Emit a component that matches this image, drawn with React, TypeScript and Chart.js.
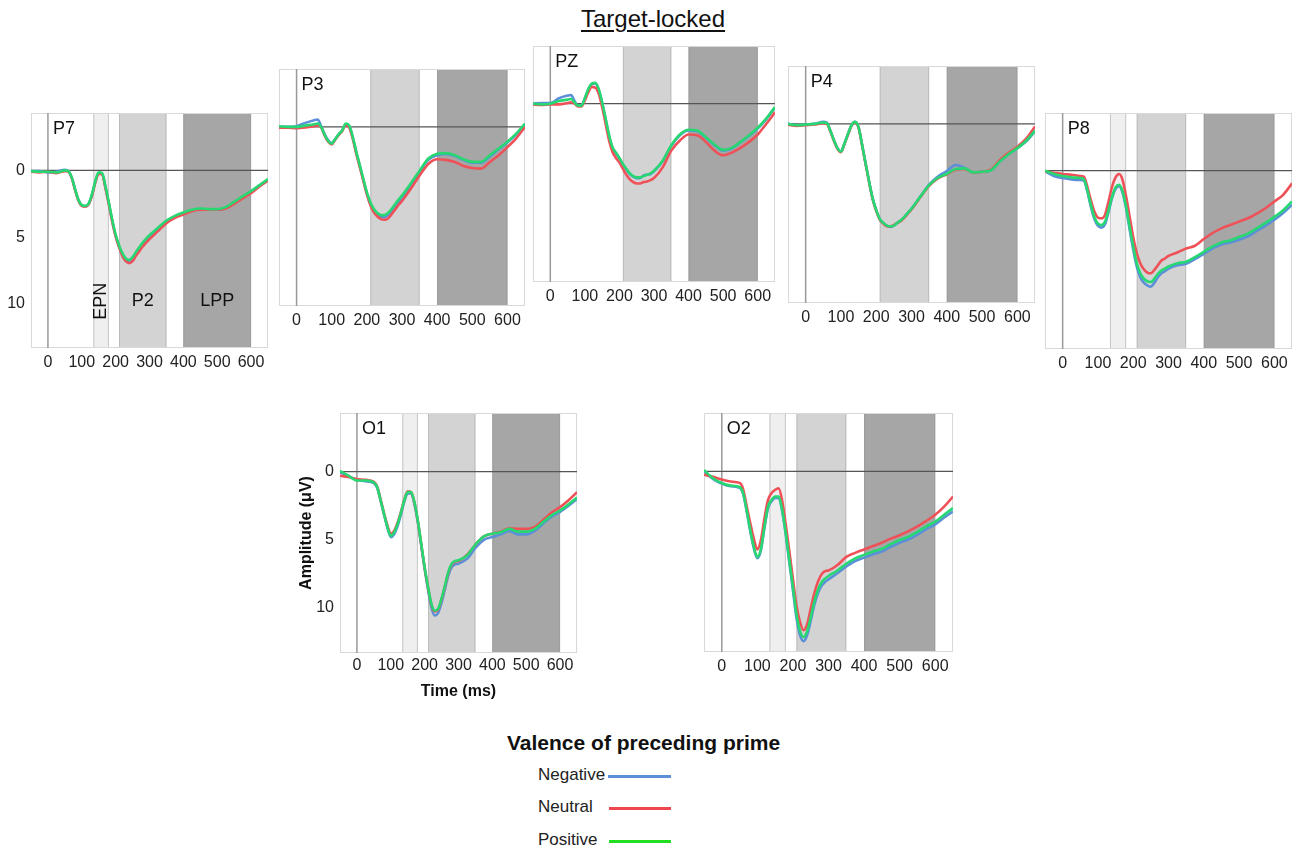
import React, { useEffect, useRef } from "react";
import { Chart, registerables } from "chart.js";

Chart.register(...registerables);

const FONT = "'Liberation Sans', Arial, Helvetica, sans-serif";
Chart.defaults.font.family = FONT;

// ---------- DATA ----------
const times = [-50, -25, 0, 25, 50, 60, 70, 80, 90, 100, 110, 120, 130, 140, 150, 160, 170, 180, 190, 200, 210, 220, 230, 240, 250, 260, 270, 280, 290, 300, 325, 350, 375, 400, 425, 450, 475, 500, 525, 550, 575, 600, 625, 650];
const xTickValues = [0, 100, 200, 300, 400, 500, 600];
const yTickValues = [0, 5, 10];
const xRange = [-50, 650];
const yRange = [-4.3, 13.3];

const bandEPN = [134, 180];
const bandP2 = [210, 350];
const bandLPP = [400, 600];
const bandNames = ["EPN", "P2", "LPP"];
const bandLabelAmplitude = 9.8;

const seriesNames = ["Negative", "Neutral", "Positive"];
const chartTitle = "Target-locked";
const legendTitle = "Valence of preceding prime";
const xAxisTitle = "Time (ms)";
const yAxisTitle = "Amplitude (μV)";

const p7Negative = [0.05, 0.05, 0.15, 0.1, -0.05, 0.05, 0.5, 1.4, 2.2, 2.6, 2.7, 2.5, 1.85, 0.85, 0.2, 0.25, 1.25, 2.5, 3.8, 4.9, 5.7, 6.35, 6.75, 6.85, 6.65, 6.25, 5.9, 5.55, 5.25, 4.95, 4.4, 3.8, 3.45, 3.2, 3.0, 2.9, 2.95, 2.95, 2.8, 2.4, 2.0, 1.6, 1.15, 0.75];
const p7Neutral = [0.1, 0.15, 0.1, 0.2, 0.05, 0.1, 0.55, 1.45, 2.25, 2.65, 2.7, 2.55, 1.9, 0.9, 0.25, 0.3, 1.35, 2.55, 3.85, 4.95, 5.75, 6.4, 6.8, 6.95, 6.8, 6.4, 6.05, 5.7, 5.4, 5.15, 4.55, 3.95, 3.55, 3.3, 3.05, 2.95, 2.95, 2.95, 2.85, 2.5, 2.1, 1.7, 1.2, 0.75];
const p7Positive = [0.05, 0.1, 0.1, 0.15, 0.0, 0.05, 0.5, 1.4, 2.2, 2.6, 2.65, 2.5, 1.8, 0.8, 0.15, 0.2, 1.2, 2.4, 3.7, 4.8, 5.6, 6.2, 6.6, 6.7, 6.5, 6.1, 5.75, 5.4, 5.1, 4.85, 4.3, 3.75, 3.4, 3.15, 2.95, 2.85, 2.9, 2.9, 2.75, 2.35, 1.95, 1.55, 1.1, 0.65];

const p3Negative = [0.0, 0.0, -0.05, -0.3, -0.5, -0.55, -0.05, 0.55, 1.0, 1.2, 0.9, 0.55, 0.25, -0.2, -0.05, 0.8, 1.9, 2.9, 3.95, 4.95, 5.75, 6.25, 6.55, 6.7, 6.7, 6.55, 6.25, 5.95, 5.6, 5.3, 4.35, 3.35, 2.45, 2.1, 2.0, 2.15, 2.45, 2.65, 2.65, 2.2, 1.65, 1.15, 0.55, -0.2];
const p3Neutral = [0.05, 0.05, 0.1, 0.05, -0.05, -0.1, 0.05, 0.65, 1.1, 1.3, 0.95, 0.6, 0.3, -0.15, 0.05, 0.9, 2.0, 3.0, 4.0, 5.0, 5.8, 6.35, 6.65, 6.85, 6.9, 6.8, 6.5, 6.15, 5.8, 5.5, 4.6, 3.6, 2.75, 2.4, 2.45, 2.6, 2.9, 3.05, 3.1, 2.6, 2.1, 1.5, 0.85, 0.0];
const p3Positive = [-0.05, 0.0, 0.0, -0.1, -0.2, -0.25, 0.0, 0.6, 1.05, 1.25, 0.9, 0.55, 0.25, -0.25, -0.1, 0.75, 1.85, 2.85, 3.85, 4.85, 5.6, 6.1, 6.4, 6.55, 6.55, 6.4, 6.1, 5.75, 5.4, 5.1, 4.2, 3.25, 2.35, 2.0, 1.95, 2.1, 2.4, 2.6, 2.6, 2.1, 1.6, 1.1, 0.5, -0.25];

const pzNegative = [0.0, -0.05, -0.05, -0.4, -0.6, -0.65, -0.2, 0.15, 0.15, -0.4, -1.05, -1.45, -1.5, -1.05, -0.05, 1.15, 2.4, 3.3, 3.7, 4.1, 4.55, 4.9, 5.25, 5.45, 5.55, 5.55, 5.35, 5.3, 5.25, 5.05, 4.3, 3.15, 2.35, 2.0, 2.05, 2.55, 3.1, 3.5, 3.35, 2.9, 2.4, 1.85, 1.15, 0.3];
const pzNeutral = [0.05, 0.1, 0.05, 0.05, -0.05, -0.1, 0.0, 0.2, 0.2, -0.25, -0.85, -1.25, -1.2, -0.75, 0.25, 1.5, 2.75, 3.6, 4.05, 4.4, 4.85, 5.3, 5.65, 5.85, 5.95, 5.95, 5.85, 5.8, 5.7, 5.55, 4.75, 3.5, 2.75, 2.3, 2.35, 2.85, 3.5, 3.85, 3.65, 3.3, 2.85, 2.3, 1.5, 0.65];
const pzPositive = [0.0, 0.05, 0.0, -0.2, -0.3, -0.35, -0.1, 0.15, 0.15, -0.4, -1.1, -1.5, -1.55, -1.1, -0.1, 1.1, 2.35, 3.25, 3.65, 4.05, 4.5, 4.85, 5.2, 5.4, 5.5, 5.5, 5.4, 5.3, 5.2, 5.0, 4.25, 3.1, 2.3, 1.95, 2.0, 2.5, 3.05, 3.45, 3.3, 2.85, 2.35, 1.8, 1.1, 0.25];

const p4Negative = [0.0, 0.1, 0.05, 0.0, -0.15, -0.1, 0.5, 1.2, 1.8, 2.05, 1.45, 0.75, 0.1, -0.15, 0.25, 1.55, 2.95, 4.3, 5.55, 6.4, 7.05, 7.35, 7.55, 7.65, 7.55, 7.35, 7.15, 6.9, 6.6, 6.3, 5.4, 4.5, 3.9, 3.5, 3.05, 3.25, 3.6, 3.55, 3.45, 2.8, 2.25, 1.8, 1.3, 0.55];
const p4Neutral = [0.05, 0.15, 0.1, 0.05, -0.05, 0.0, 0.55, 1.25, 1.85, 2.1, 1.5, 0.8, 0.15, -0.1, 0.3, 1.6, 3.0, 4.35, 5.6, 6.45, 7.1, 7.4, 7.6, 7.6, 7.5, 7.35, 7.2, 6.95, 6.65, 6.35, 5.45, 4.6, 4.05, 3.75, 3.4, 3.35, 3.6, 3.55, 3.4, 2.7, 2.15, 1.7, 1.1, 0.2];
const p4Positive = [0.0, 0.1, 0.05, 0.0, -0.1, -0.05, 0.5, 1.2, 1.8, 2.05, 1.45, 0.75, 0.1, -0.15, 0.25, 1.55, 2.95, 4.3, 5.55, 6.4, 7.05, 7.35, 7.55, 7.6, 7.55, 7.35, 7.15, 6.9, 6.6, 6.3, 5.4, 4.55, 4.0, 3.7, 3.35, 3.3, 3.6, 3.55, 3.45, 2.8, 2.25, 1.8, 1.25, 0.5];

const p8Negative = [0.05, 0.4, 0.55, 0.65, 0.7, 0.75, 1.55, 2.7, 3.6, 4.1, 4.25, 4.0, 3.1, 2.05, 1.35, 1.15, 1.65, 2.85, 4.4, 5.9, 7.15, 7.95, 8.35, 8.55, 8.65, 8.35, 7.95, 7.65, 7.5, 7.3, 7.05, 6.95, 6.6, 6.2, 5.8, 5.5, 5.35, 5.15, 4.9, 4.5, 4.1, 3.65, 3.15, 2.55];
const p8Neutral = [0.05, 0.15, 0.25, 0.3, 0.4, 0.45, 1.2, 2.2, 3.05, 3.5, 3.55, 3.3, 2.3, 1.2, 0.5, 0.25, 0.7, 1.95, 3.45, 4.95, 6.15, 6.9, 7.35, 7.6, 7.65, 7.4, 7.05, 6.7, 6.55, 6.35, 6.1, 5.8, 5.6, 5.1, 4.65, 4.3, 4.05, 3.8, 3.55, 3.2, 2.8, 2.3, 1.8, 0.95];
const p8Positive = [0.0, 0.25, 0.4, 0.5, 0.55, 0.65, 1.45, 2.55, 3.45, 3.95, 4.05, 3.8, 2.95, 1.95, 1.25, 1.05, 1.55, 2.7, 4.2, 5.65, 6.9, 7.65, 8.05, 8.25, 8.3, 8.05, 7.7, 7.45, 7.3, 7.15, 6.9, 6.8, 6.45, 6.05, 5.65, 5.35, 5.2, 4.95, 4.7, 4.3, 3.9, 3.45, 2.95, 2.3];

const o1Negative = [0.05, 0.35, 0.6, 0.7, 0.85, 1.2, 2.15, 3.15, 4.1, 4.8, 4.6, 4.0, 3.15, 2.2, 1.6, 1.6, 2.4, 3.75, 5.45, 7.15, 8.65, 9.95, 10.55, 10.35, 9.6, 8.6, 7.6, 7.0, 6.8, 6.75, 6.4, 5.6, 5.0, 4.8, 4.6, 4.35, 4.6, 4.6, 4.35, 3.8, 3.3, 2.95, 2.5, 2.0];
const o1Neutral = [0.3, 0.4, 0.55, 0.6, 0.75, 1.1, 2.05, 3.05, 3.95, 4.55, 4.35, 3.75, 2.95, 2.05, 1.45, 1.5, 2.3, 3.65, 5.35, 7.05, 8.5, 9.75, 10.25, 10.1, 9.35, 8.4, 7.4, 6.8, 6.6, 6.55, 6.1, 5.35, 4.75, 4.55, 4.4, 4.15, 4.2, 4.2, 4.05, 3.55, 3.0, 2.6, 2.1, 1.5];
const o1Positive = [-0.05, 0.3, 0.65, 0.65, 0.8, 1.15, 2.1, 3.1, 4.05, 4.7, 4.45, 3.85, 3.0, 2.1, 1.5, 1.5, 2.25, 3.6, 5.3, 7.0, 8.45, 9.7, 10.2, 10.05, 9.3, 8.35, 7.35, 6.75, 6.55, 6.5, 6.15, 5.35, 4.75, 4.55, 4.45, 4.2, 4.4, 4.4, 4.2, 3.7, 3.2, 2.85, 2.4, 1.9];

const o2Negative = [0.0, 0.55, 0.9, 1.1, 1.2, 1.65, 2.95, 4.4, 5.65, 6.4, 5.8, 4.15, 2.7, 2.2, 1.95, 1.95, 2.95, 4.7, 6.75, 8.75, 10.8, 12.05, 12.5, 12.05, 11.0, 9.85, 9.0, 8.45, 8.15, 7.95, 7.5, 7.0, 6.6, 6.35, 6.1, 5.9, 5.55, 5.25, 5.0, 4.65, 4.25, 3.9, 3.4, 2.95];
const o2Neutral = [0.25, 0.4, 0.6, 0.75, 0.85, 1.3, 2.55, 3.8, 4.95, 5.75, 5.05, 3.45, 2.1, 1.6, 1.35, 1.25, 2.2, 3.95, 5.9, 7.9, 9.9, 11.1, 11.7, 11.25, 10.1, 9.0, 8.15, 7.6, 7.35, 7.3, 6.9, 6.3, 6.0, 5.75, 5.5, 5.25, 4.95, 4.7, 4.4, 4.05, 3.65, 3.2, 2.6, 1.85];
const o2Positive = [-0.1, 0.5, 0.85, 1.05, 1.15, 1.6, 2.85, 4.3, 5.55, 6.3, 5.7, 4.05, 2.6, 2.1, 1.85, 1.85, 2.85, 4.55, 6.55, 8.5, 10.5, 11.75, 12.2, 11.75, 10.75, 9.6, 8.75, 8.2, 7.9, 7.7, 7.3, 6.8, 6.4, 6.15, 5.9, 5.7, 5.35, 5.05, 4.8, 4.45, 4.05, 3.7, 3.2, 2.7];

// ---------- STYLE / LAYOUT ----------
const seriesColors = ["#5b8fd8", "#ef5158", "#27d872"];
const legendColors = ["#5b8fd8", "#ef4650", "#22df22"];
const seriesOrder = [2, 1, 0];

type Panel = {
  name: string;
  series: number[][];
  epn: boolean;
  bandLabels: boolean;
  yTicks: boolean;
  axisTitles: boolean;
  plot: { l: number; t: number; r: number; b: number };
  m: { l: number; t: number; r: number; b: number };
  tickPad: number;
};

const panels: Panel[] = [
  { name: "P7", series: [p7Negative, p7Neutral, p7Positive], epn: true, bandLabels: true, yTicks: true, axisTitles: false, plot: { l: 31, t: 113, r: 268, b: 348 }, m: { l: 31, t: 20, r: 4, b: 32 }, tickPad: 5 },
  { name: "P3", series: [p3Negative, p3Neutral, p3Positive], epn: false, bandLabels: false, yTicks: false, axisTitles: false, plot: { l: 279, t: 69, r: 525, b: 306 }, m: { l: 4, t: 4, r: 4, b: 32 }, tickPad: 5 },
  { name: "PZ", series: [pzNegative, pzNeutral, pzPositive], epn: false, bandLabels: false, yTicks: false, axisTitles: false, plot: { l: 533, t: 46, r: 775, b: 282 }, m: { l: 4, t: 4, r: 4, b: 32 }, tickPad: 5 },
  { name: "P4", series: [p4Negative, p4Neutral, p4Positive], epn: false, bandLabels: false, yTicks: false, axisTitles: false, plot: { l: 788, t: 66, r: 1035, b: 303 }, m: { l: 4, t: 4, r: 4, b: 32 }, tickPad: 5 },
  { name: "P8", series: [p8Negative, p8Neutral, p8Positive], epn: true, bandLabels: false, yTicks: false, axisTitles: false, plot: { l: 1045, t: 113, r: 1292, b: 349 }, m: { l: 4, t: 4, r: 4, b: 32 }, tickPad: 5 },
  { name: "O1", series: [o1Negative, o1Neutral, o1Positive], epn: true, bandLabels: false, yTicks: true, axisTitles: true, plot: { l: 340, t: 413, r: 577, b: 653 }, m: { l: 43, t: 20, r: 4, b: 48 }, tickPad: 3 },
  { name: "O2", series: [o2Negative, o2Neutral, o2Positive], epn: true, bandLabels: false, yTicks: false, axisTitles: false, plot: { l: 704, t: 413, r: 953, b: 652 }, m: { l: 4, t: 4, r: 4, b: 32 }, tickPad: 5 },
];

const decorPlugin = {
  id: "erpDecor",
  beforeDatasetsDraw(chart: any, _args: any, opts: any) {
    const { ctx, chartArea: a, scales } = chart;
    const x = scales.x;
    const y = scales.y;
    ctx.save();
    const bands: [number[], string, string][] = [];
    if (opts.epn) bands.push([bandEPN, "#efefef", "#c6c6c6"]);
    bands.push([bandP2, "#d3d3d3", "#bcbcbc"]);
    bands.push([bandLPP, "#a6a6a6", "#9c9c9c"]);
    for (const [b, fill, stroke] of bands) {
      const x0 = x.getPixelForValue(b[0]);
      const x1 = x.getPixelForValue(b[1]);
      ctx.fillStyle = fill;
      ctx.fillRect(x0, a.top, x1 - x0, a.bottom - a.top);
      ctx.strokeStyle = stroke;
      ctx.lineWidth = 1;
      ctx.strokeRect(x0 + 0.5, a.top + 0.5, x1 - x0 - 1, a.bottom - a.top - 1);
    }
    ctx.strokeStyle = "#d9d9d9";
    ctx.lineWidth = 1;
    ctx.strokeRect(a.left + 0.5, a.top + 0.5, a.right - a.left - 1, a.bottom - a.top - 1);
    const xz = x.getPixelForValue(0);
    ctx.strokeStyle = "#9a9a9a";
    ctx.lineWidth = 1.5;
    ctx.beginPath();
    ctx.moveTo(xz, a.top);
    ctx.lineTo(xz, a.bottom);
    ctx.stroke();
    const yz = y.getPixelForValue(0);
    ctx.strokeStyle = "#555555";
    ctx.lineWidth = 1.2;
    ctx.beginPath();
    ctx.moveTo(a.left, yz);
    ctx.lineTo(a.right, yz);
    ctx.stroke();
    ctx.restore();
  },
  afterDatasetsDraw(chart: any, _args: any, opts: any) {
    const { ctx, chartArea: a, scales } = chart;
    const x = scales.x;
    const y = scales.y;
    ctx.save();
    ctx.fillStyle = "#111";
    ctx.font = `18px ${FONT}`;
    ctx.textBaseline = "middle";
    ctx.textAlign = "left";
    ctx.fillText(opts.name, x.getPixelForValue(0) + 5, a.top + 16);
    if (opts.bandLabels) {
      const ly = y.getPixelForValue(bandLabelAmplitude);
      const ranges = [bandEPN, bandP2, bandLPP];
      ranges.forEach((r, i) => {
        const cx = x.getPixelForValue((r[0] + r[1]) / 2);
        ctx.save();
        ctx.textAlign = "center";
        ctx.translate(cx, ly);
        if (i === 0) ctx.rotate(-Math.PI / 2);
        ctx.fillText(bandNames[i], 0, 0);
        ctx.restore();
      });
    }
    ctx.restore();
  },
};

function ErpPanel({ p }: { p: Panel }) {
  const ref = useRef<HTMLCanvasElement>(null);
  const W = p.plot.r - p.plot.l + p.m.l + p.m.r;
  const H = p.plot.b - p.plot.t + p.m.t + p.m.b;
  useEffect(() => {
    const canvas = ref.current!;
    const chart = new Chart(canvas, {
      type: "line",
      data: {
        datasets: p.series.map((vals, i) => ({
          label: seriesNames[i],
          data: times.map((t, k) => ({ x: t, y: vals[k] })),
          borderColor: seriesColors[i],
          backgroundColor: seriesColors[i],
          borderWidth: 2.6,
          pointRadius: 0,
          cubicInterpolationMode: "monotone" as const,
          order: seriesOrder[i],
        })),
      },
      options: {
        animation: false,
        responsive: false,
        devicePixelRatio: 1,
        layout: { padding: { left: 0, top: p.m.t, right: p.m.r, bottom: 0 } },
        plugins: {
          legend: { display: false },
          tooltip: { enabled: false },
          erpDecor: { name: p.name, epn: p.epn, bandLabels: p.bandLabels },
        } as any,
        scales: {
          x: {
            type: "linear",
            min: xRange[0],
            max: xRange[1],
            grid: { display: false, drawTicks: false },
            border: { display: false },
            afterBuildTicks: (s: any) => {
              s.ticks = xTickValues.map((v) => ({ value: v }));
            },
            afterFit: (s: any) => {
              s.height = p.m.b;
            },
            ticks: { color: "#222", font: { size: 16 }, padding: p.tickPad, maxRotation: 0, autoSkip: false },
            title: {
              display: p.axisTitles,
              text: xAxisTitle,
              color: "#111",
              font: { size: 16, weight: "bold" },
              padding: 0,
            },
          },
          y: {
            type: "linear",
            reverse: true,
            min: yRange[0],
            max: yRange[1],
            grid: { display: false, drawTicks: false },
            border: { display: false },
            afterBuildTicks: (s: any) => {
              s.ticks = yTickValues.map((v) => ({ value: v }));
            },
            afterFit: (s: any) => {
              s.width = p.m.l;
            },
            ticks: { display: p.yTicks, color: "#222", font: { size: 16 }, padding: 6 },
            title: {
              display: p.axisTitles,
              text: yAxisTitle,
              color: "#111",
              font: { size: 16, weight: "bold" },
              padding: 0,
            },
          },
        },
      },
      plugins: [decorPlugin],
    } as any);
    return () => chart.destroy();
  }, []);
  return (
    <canvas
      ref={ref}
      width={W}
      height={H}
      style={{ position: "absolute", left: p.plot.l - p.m.l, top: p.plot.t - p.m.t, width: W, height: H }}
    />
  );
}

export default function App() {
  const legendRows = [
    { y: 776, lineLeft: 608 },
    { y: 808, lineLeft: 609 },
    { y: 841, lineLeft: 609 },
  ];
  return (
    <div style={{ position: "absolute", left: 0, top: 0, width: 1296, height: 851, background: "#fff", fontFamily: FONT, overflow: "hidden" }}>
      <div
        style={{
          position: "absolute",
          left: 0,
          width: 1306,
          top: 6,
          textAlign: "center",
          fontSize: 24,
          lineHeight: "26px",
          color: "#111",
          textDecoration: "underline",
          textUnderlineOffset: 3,
        }}
      >
        {chartTitle}
      </div>
      {panels.map((p) => (
        <ErpPanel key={p.name} p={p} />
      ))}
      <div style={{ position: "absolute", left: 507, top: 731, fontSize: 21, fontWeight: "bold", lineHeight: "24px", color: "#111", whiteSpace: "nowrap" }}>
        {legendTitle}
      </div>
      {seriesNames.map((n, i) => (
        <React.Fragment key={n}>
          <div style={{ position: "absolute", left: 538, top: legendRows[i].y - 11, fontSize: 17, lineHeight: "20px", color: "#222" }}>{n}</div>
          <div style={{ position: "absolute", left: legendRows[i].lineLeft, top: legendRows[i].y - 1, width: 671 - legendRows[i].lineLeft, height: 3, background: legendColors[i] }} />
        </React.Fragment>
      ))}
    </div>
  );
}
